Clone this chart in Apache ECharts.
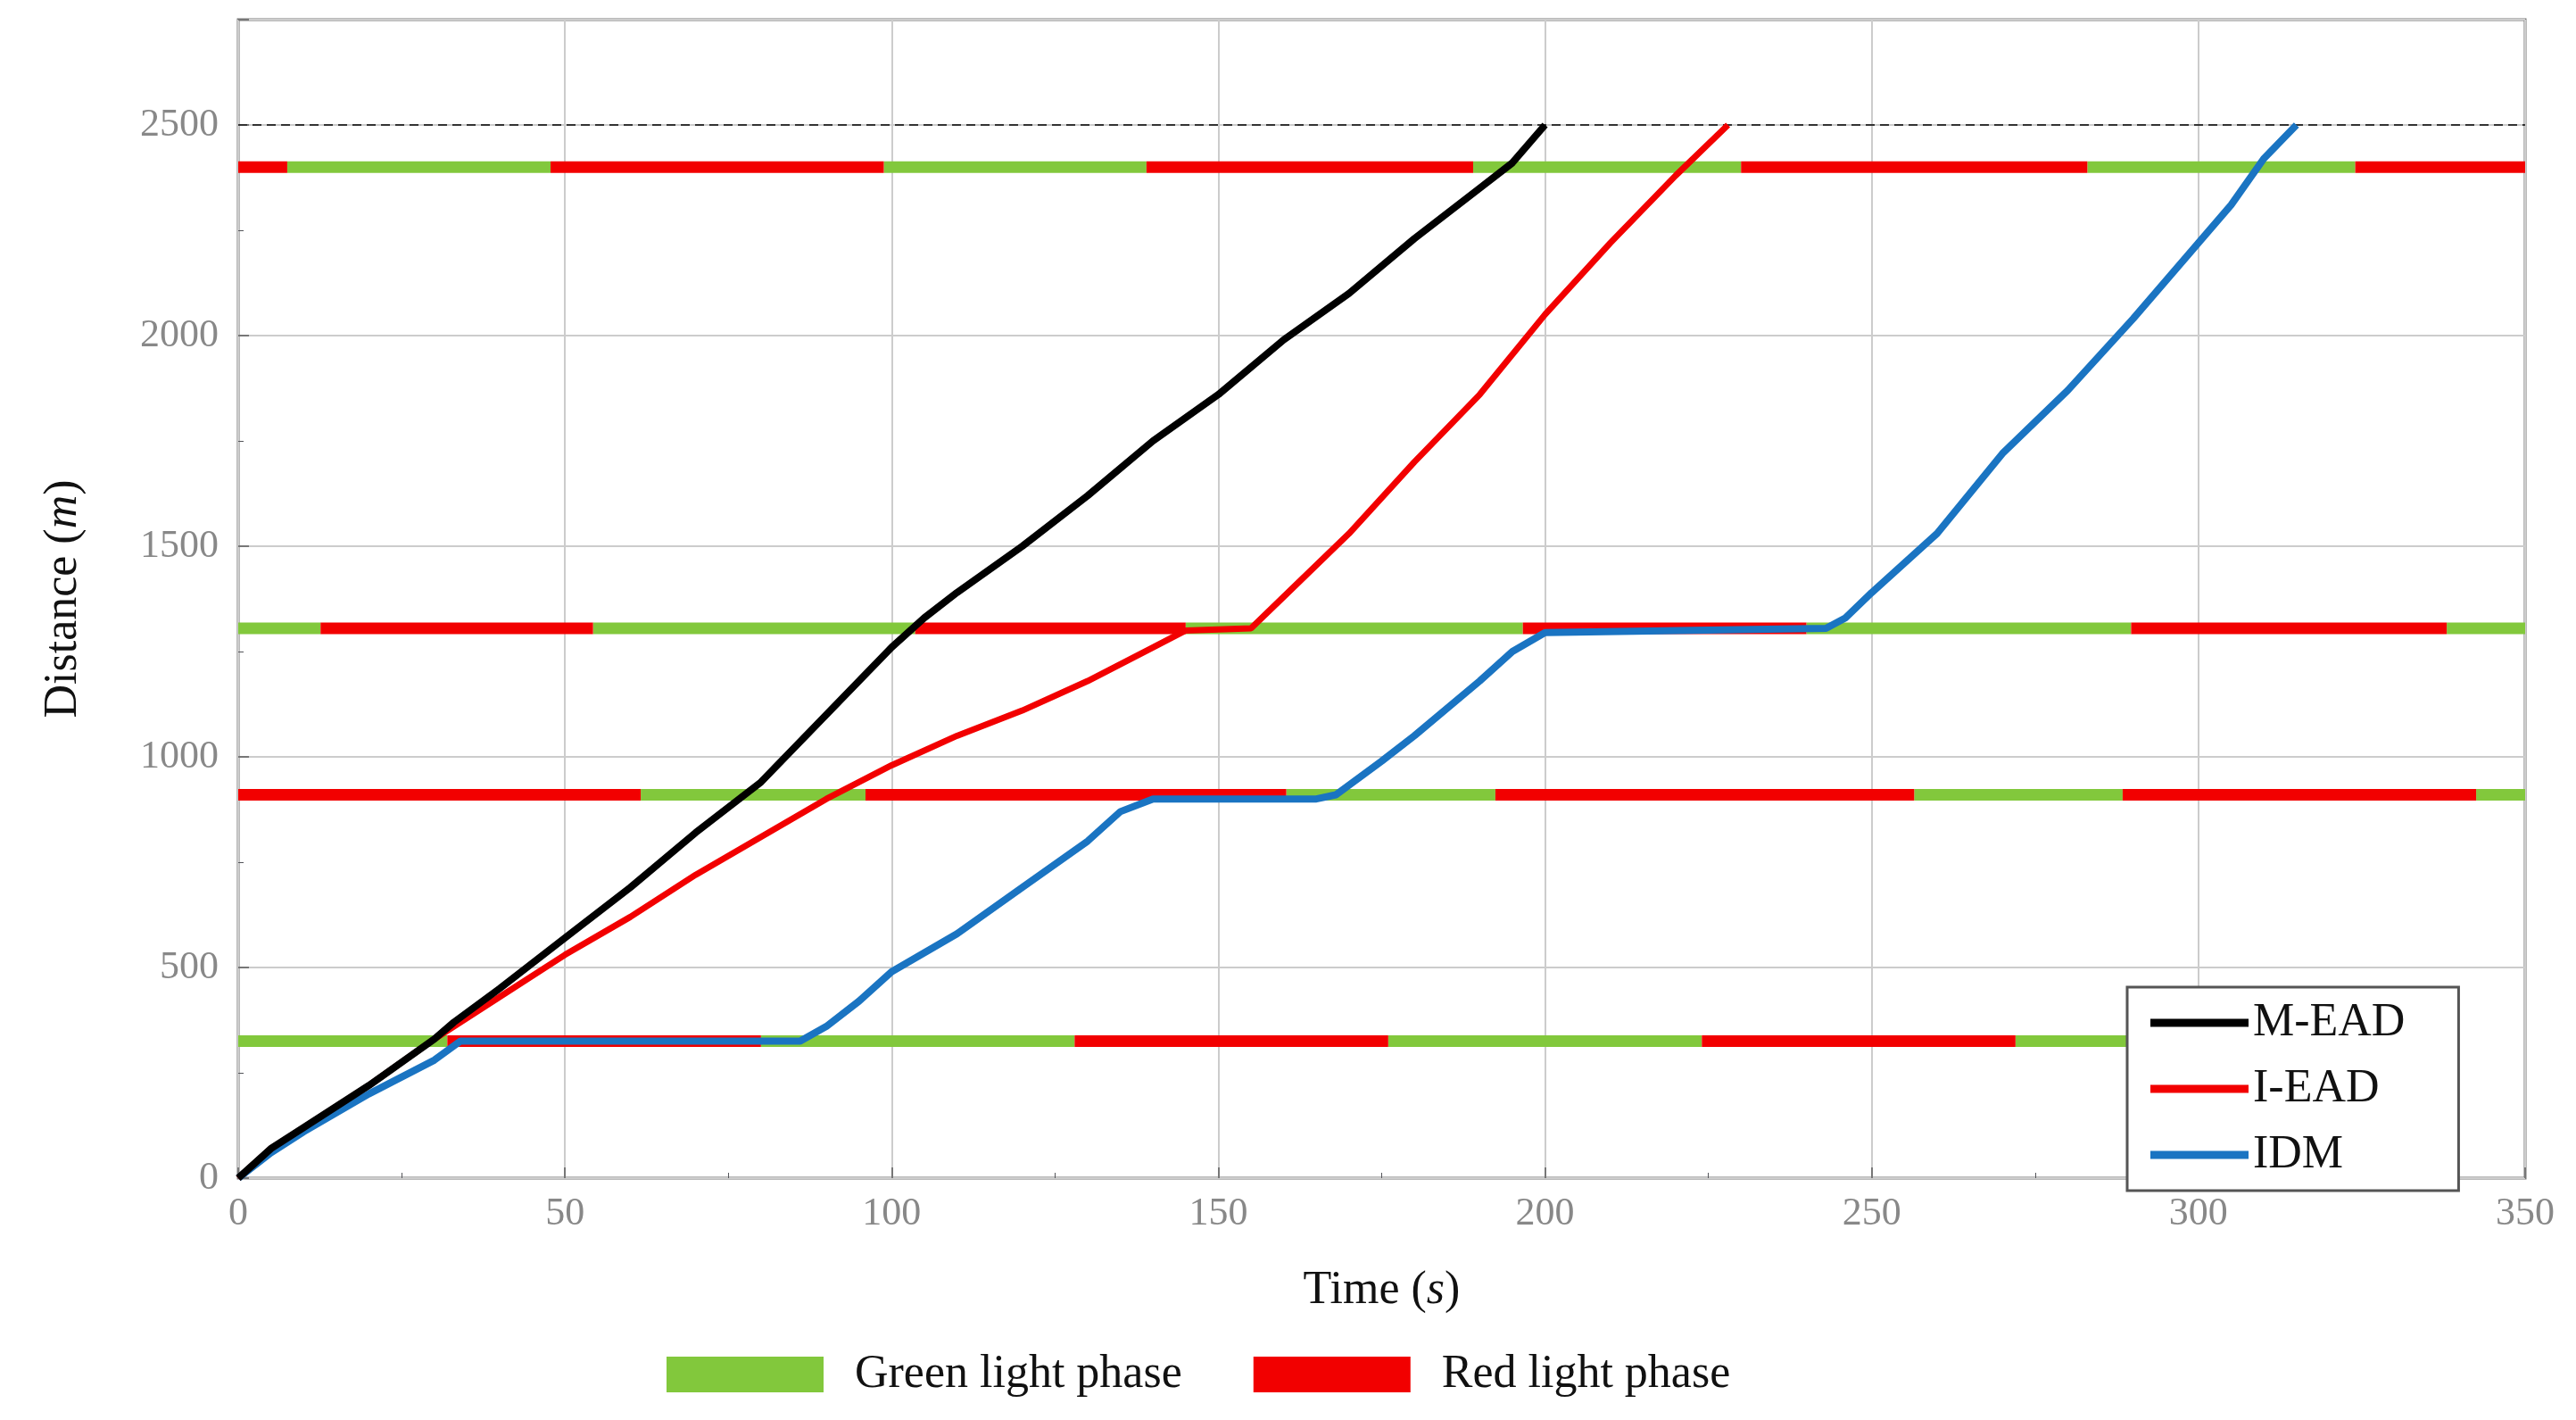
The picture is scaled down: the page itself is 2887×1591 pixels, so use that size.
<!DOCTYPE html>
<html><head><meta charset="utf-8">
<script src="https://cdn.jsdelivr.net/npm/echarts@6/dist/echarts.min.js"></script>
<style>html,body{margin:0;padding:0;background:#fff}#c{width:2887px;height:1591px}</style>
</head><body><div id="c"></div>
<script>
const xTicks = [0,50,100,150,200,250,300,350];
const yTicks = [0,500,1000,1500,2000,2500];
const mEAD = [[0,0],[5,70],[10,120],[20,220],[30,330],[33,370],[40,450],[50,570],[60,690],[70,820],[80,940],[90,1100],[100,1260],[105,1330],[110,1390],[120,1500],[130,1620],[140,1750],[150,1860],[160,1990],[170,2100],[180,2230],[190,2350],[195,2410],[200,2500]];
const iEAD = [[0,0],[5,70],[10,120],[20,220],[30,330],[40,430],[50,530],[60,620],[70,720],[80,810],[90,900],[100,980],[110,1050],[120,1110],[130,1180],[140,1260],[145,1300],[155,1305],[160,1380],[170,1530],[180,1700],[190,1860],[200,2050],[210,2220],[220,2380],[228,2500]];
const idm = [[0,0],[5,60],[10,110],[20,200],[30,280],[34,325],[86,325],[90,360],[95,420],[100,490],[110,580],[120,690],[130,800],[135,870],[140,900],[165,900],[168,910],[175,990],[180,1050],[190,1180],[195,1250],[200,1295],[243,1305],[246,1330],[250,1390],[260,1530],[270,1720],[280,1870],[290,2040],[300,2220],[305,2310],[310,2420],[315,2500]];
const greenPhases = [[7.5,47.8,2400],[98.8,139,2400],[189,230,2400],[283,324,2400],
 [0,12.6,1305],[54.3,103.6,1305],[145,196.6,1305],[240,289.7,1305],[338,350,1305],
 [61.6,96,910],[160.4,192.4,910],[256.5,288.4,910],[342.5,350,910],
 [0,32,325],[80,128,325],[176,224,325],[272,330,325]];
const redPhases = [[0,7.5,2400],[47.8,98.8,2400],[139,189,2400],[230,283,2400],[324,350,2400],
 [12.6,54.3,1305],[103.6,145,1305],[196.6,240,1305],[289.7,338,1305],
 [0,61.6,910],[96,160.4,910],[192.4,256.5,910],[288.4,342.5,910],
 [32,80,325],[128,176,325],[224,272,325]];

function phaseRender(color){
  return function(params, api){
    const a = api.coord([api.value(0), api.value(2)]);
    const b = api.coord([api.value(1), api.value(2)]);
    return {type:'rect', shape:{x:a[0], y:a[1]-6.5, width:b[0]-a[0], height:13}, style:{fill:color}};
  };
}
const serif = 'Liberation Serif';
const labelFmt = v => yTicks.includes(v) || xTicks.includes(v) ? String(v) : '';
const chart = echarts.init(document.getElementById('c'));
chart.setOption({
  animation:false,
  grid:{left:267,right:57,top:22,bottom:271,show:true,borderColor:'#777',borderWidth:3},
  xAxis:{type:'value',min:0,max:350,interval:50,
    name:'Time ({i|s})',nameLocation:'middle',nameGap:100,
    nameTextStyle:{fontFamily:serif,fontSize:52,color:'#111',rich:{i:{fontFamily:serif,fontSize:52,fontStyle:'italic',color:'#111'}}},
    axisLabel:{fontFamily:serif,fontSize:44,color:'#888',margin:18,formatter:v=>xTicks.includes(v)?String(v):''},
    axisLine:{show:false},axisTick:{show:true,inside:true,length:12,lineStyle:{color:'#777',width:2}},
    minorTick:{show:true,splitNumber:2,length:6},
    splitLine:{show:true,lineStyle:{color:'#ccc',width:2}}},
  yAxis:{type:'value',min:0,max:2750,interval:500,
    name:'Distance ({i|m})',nameLocation:'middle',nameGap:170,
    nameTextStyle:{fontFamily:serif,fontSize:52,color:'#111',rich:{i:{fontFamily:serif,fontSize:52,fontStyle:'italic',color:'#111'}}},
    axisLabel:{fontFamily:serif,fontSize:44,color:'#888',margin:22,formatter:v=>yTicks.includes(v)?String(v):''},
    axisLine:{show:false},axisTick:{show:true,inside:true,length:12,lineStyle:{color:'#777',width:2}},
    minorTick:{show:true,splitNumber:2,length:6},
    splitLine:{show:true,lineStyle:{color:'#ccc',width:2}}},
  legend:[{
    data:['M-EAD','I-EAD','IDM'],orient:'vertical',left:2384,top:1106,
    itemWidth:110,itemHeight:9,itemGap:22,icon:'rect',
    backgroundColor:'#fff',borderColor:'#555',borderWidth:3,padding:[14,60,14,26],
    textStyle:{fontFamily:serif,fontSize:52,color:'#111'}
  },{
    data:['Green light phase','Red light phase'],bottom:20,left:742,
    itemWidth:176,itemHeight:40,itemGap:80,icon:'rect',
    textStyle:{fontFamily:serif,fontSize:52,color:'#111',padding:[0,0,0,30]}
  }],
  series:[
    {name:'Green light phase',type:'custom',renderItem:phaseRender('#82c83c'),itemStyle:{color:'#82c83c'},data:greenPhases,encode:{x:[0,1],y:2},z:2},
    {name:'Red light phase',type:'custom',renderItem:phaseRender('#f20000'),itemStyle:{color:'#f20000'},data:redPhases,encode:{x:[0,1],y:2},z:2},
    {name:'IDM',type:'line',data:idm,showSymbol:false,lineStyle:{color:'#1a74c2',width:8},itemStyle:{color:'#1a74c2'},z:5},
    {name:'I-EAD',type:'line',data:iEAD,showSymbol:false,lineStyle:{color:'#f20000',width:7},itemStyle:{color:'#f20000'},z:6},
    {name:'M-EAD',type:'line',data:mEAD,showSymbol:false,lineStyle:{color:'#000',width:8},itemStyle:{color:'#000'},z:7,
      markLine:{silent:true,symbol:'none',label:{show:false},lineStyle:{color:'#333',type:[10,6],width:2},data:[{yAxis:2500}]}}
  ]
});
</script></body></html>
